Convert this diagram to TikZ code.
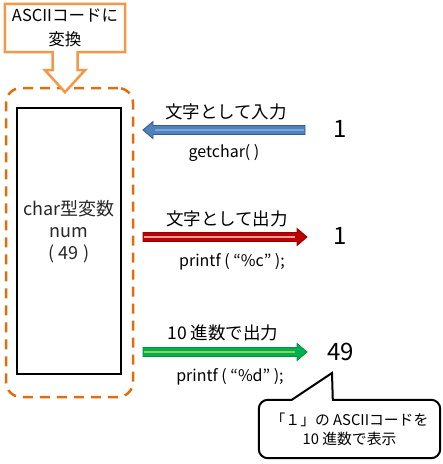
\documentclass[tikz,border=0pt]{standalone}
\usepackage{fontspec}
\setmainfont{Noto Sans CJK JP}
\usetikzlibrary{calc,positioning}
\definecolor{lorange}{HTML}{F79646}
\definecolor{dorange}{HTML}{E46C0A}
\definecolor{inblue}{HTML}{4F81BD}
\definecolor{inblueD}{HTML}{385D8A}
\definecolor{inblueL}{HTML}{7FA4D6}
\definecolor{outred}{HTML}{C00000}
\definecolor{outredD}{HTML}{960000}
\definecolor{outredL}{HTML}{E9A3A3}
\definecolor{decgreen}{HTML}{00B050}
\definecolor{decgreenD}{HTML}{00903F}
\definecolor{decgreenL}{HTML}{92D050}
\begin{document}
\begin{tikzpicture}[x=1pt,y=-1pt,
  lbl/.style={font=\fontsize{17.5}{20}\selectfont,inner sep=0pt},
  code/.style={font=\fontsize{16}{19}\selectfont,inner sep=0pt},
  val/.style={font=\fontsize{24}{28}\selectfont,inner sep=0pt},
  blk/.style={line width=0.9pt,line join=miter,to path={
     let \p1=(\tikztostart),\p2=(\tikztotarget),
         \p3=($(\tikztotarget)!10pt!(\tikztostart)$) in
     (\x1,\y1+4.5pt) -- (\x3,\y1+4.5pt) -- (\x3,\y1+8.5pt) -- (\x2,\y2)
     -- (\x3,\y1-8.5pt) -- (\x3,\y1-4.5pt) -- (\x1,\y1-4.5pt) -- cycle}},
  glow/.style={line width=1.6pt,shorten >=12pt,shorten <=1pt}]
\useasboundingbox (0,0) rectangle (443,464);

% variable and its group
\node[draw=dorange,line width=2.5pt,dash pattern=on 10pt off 7pt,
      rounded corners=15pt,minimum width=127pt,minimum height=309pt] (grp) at (69.5,242.5) {};
\node[draw,line width=2.5pt,minimum width=104pt,minimum height=266pt] (var) at (69,241) {};
\node[font=\fontsize{18}{22}\selectfont,align=center,text=black!85] (varlbl) at (69,232)
   {char型変数\\num\\( 49 )};

% conversion callout
\node[font=\fontsize{16.5}{24}\selectfont,align=center,minimum width=120pt,
      minimum height=48pt,inner sep=0pt] (conv) at (65,28) {ASCIIコードに\\変換};
\draw[lorange,line width=2.5pt,fill=white]
  (conv.north west) -- (conv.north east) -- (conv.south east)
  -- ([xshift=12.5pt]conv.south) -- ++(0,18) -- ++(7.5,0) -- ++(-20,22)
  -- ++(-20,-22) -- ++(7.5,0) -- ++(0,-18) -- (conv.south west) -- cycle;
\node[font=\fontsize{16.5}{24}\selectfont,align=center] at (conv) {ASCIIコードに\\変換};

% values
\node[val] (vin) at (340,129) {1};
\node[val] (vout) at (340,236) {1};
\node[val] (vdec) at (340.5,352) {49};

\coordinate (b1) at (305,130); \coordinate (b2) at (143,130);
\coordinate (r1) at (143,237); \coordinate (r2) at (307,237);
\coordinate (g1) at (143,352); \coordinate (g2) at (307,352);

\draw[blk,draw=inblueD,fill=inblue] (b1) to (b2);
\draw[glow,inblueL] (b1) -- (b2);
\draw[blk,draw=outredD,fill=outred] (r1) to (r2);
\draw[glow,outredL] (r1) -- (r2);
\draw[blk,draw=decgreenD,fill=decgreen] (g1) to (g2);
\draw[glow,decgreenL] (g1) -- (g2);

\node[lbl] (tin) at (226,112) {文字として入力};
\node[code] (cin) at (224,153) {getchar( )};
\node[lbl] (tout) at (227,219) {文字として出力};
\node[code] (cout) at (232,262) {printf ( “\%c” );};
\node[lbl] (tdec) at (223,333) {10 進数で出力};
\node[code] (cdec) at (230,377) {printf ( “\%d” );};

% note bubble
\node[font=\fontsize{14.8}{19}\selectfont,align=center,minimum width=181pt,
      minimum height=58pt,inner sep=0pt] (note) at (349.5,429) {};
\coordinate (ptr) at (332,373);
\draw[line width=2pt,fill=white]
  ([xshift=33pt]note.north west) [rounded corners=9pt] -- (note.north west)
  -- (note.south west) -- (note.south east) -- (note.north east)
  -- ([xshift=-40pt]note.north east) [sharp corners]
  -- ([xshift=74pt]note.north west) -- (ptr) -- cycle;
\node[font=\fontsize{14.8}{19}\selectfont,align=center] at (note)
   {「１」の ASCIIコードを\\10 進数で表示};
\end{tikzpicture}
\end{document}
